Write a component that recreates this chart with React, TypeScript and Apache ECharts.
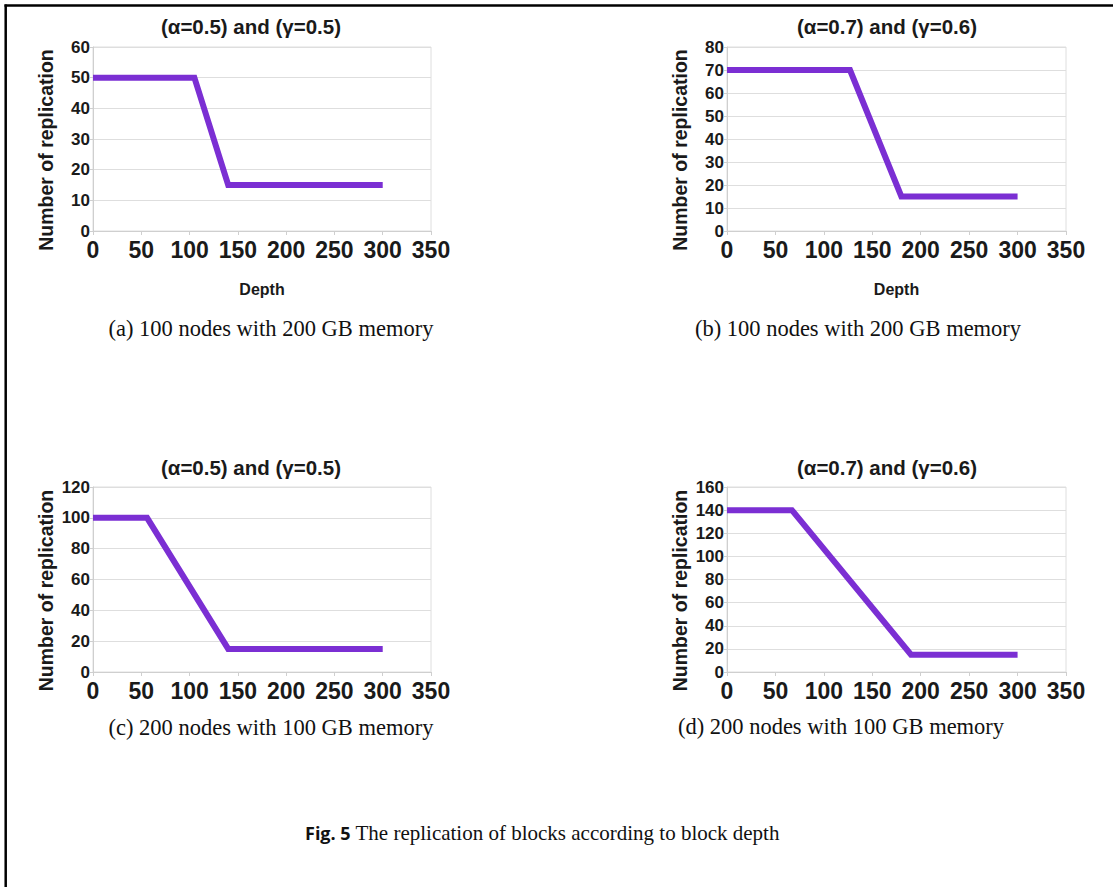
import React, { useEffect, useRef } from "react";
import * as echarts from "echarts";

// ---- data ----
const depthA = [0, 105, 140, 300];
const replA = [50, 50, 15, 15];
const depthB = [0, 127, 180, 300];
const replB = [70, 70, 15, 15];
const depthC = [0, 56, 140, 300];
const replC = [100, 100, 15, 15];
const depthD = [0, 67, 190, 300];
const replD = [140, 140, 15, 15];

const yMax = [60, 80, 120, 160];
const yStep = [10, 10, 20, 20];
const titles = ["(α=0.5) and (γ=0.5)", "(α=0.7) and (γ=0.6)", "(α=0.5) and (γ=0.5)", "(α=0.7) and (γ=0.6)"];
const captions = [
  "(a) 100 nodes with 200 GB memory",
  "(b) 100 nodes with 200 GB memory",
  "(c) 200 nodes with 100 GB memory",
  "(d) 200 nodes with 100 GB memory",
];
const xAxisName = "Depth";
const yAxisName = "Number of replication";
const figLabel = "Fig. 5";
const figText = " The replication of blocks according to block depth";

const SANS = "'Liberation Sans', Arial, sans-serif";
const SERIF = "'Liberation Serif', 'Times New Roman', serif";
const LINE = "#7b2fd3";
const GRID = "#dedede";

export default function App() {
  const ref = useRef<HTMLDivElement>(null);
  useEffect(() => {
    if (!ref.current) return;
    const chart = echarts.init(ref.current, undefined, { renderer: "svg" });
    const grids = [
      { left: 93, top: 47, width: 338, height: 184 },
      { left: 727, top: 47, width: 339, height: 184 },
      { left: 93, top: 487, width: 338, height: 185 },
      { left: 727, top: 487, width: 339, height: 185 },
    ];
    const series = [
      [depthA, replA],
      [depthB, replB],
      [depthC, replC],
      [depthD, replD],
    ];
    const titleCenters = [
      [251, 26],
      [887, 26],
      [251, 467],
      [887, 467],
    ];
    const captionPos = [
      [271, 328],
      [858, 328],
      [271, 727],
      [841, 726],
    ];
    const option: any = {
      animation: false,
      backgroundColor: "#ffffff",
      textStyle: { fontFamily: SANS },
      grid: grids.map((g) => ({
        ...g,
        show: true,
        borderColor: GRID,
        borderWidth: 1,
        containLabel: false,
      })),
      xAxis: grids.map((_, i) => ({
        type: "value",
        gridIndex: i,
        min: 0,
        max: 350,
        interval: 50,
        name: i < 2 ? xAxisName : "",
        nameLocation: "middle",
        nameGap: 50,
        nameTextStyle: { fontFamily: SANS, fontWeight: "bold", fontSize: 16, color: "#1a1a1a" },
        axisLine: { show: true, lineStyle: { color: "#cfcfcf", width: 1 } },
        axisTick: { show: true, inside: false, length: 4, lineStyle: { color: "#cfcfcf" } },
        axisLabel: { fontFamily: SANS, fontWeight: "bold", fontSize: 23, color: "#1a1a1a", margin: 7 },
        splitLine: { show: false },
      })),
      yAxis: grids.map((_, i) => ({
        type: "value",
        gridIndex: i,
        min: 0,
        max: yMax[i],
        interval: yStep[i],
        name: yAxisName,
        nameLocation: "middle",
        nameGap: 37,
        nameTextStyle: {
          fontFamily: SANS,
          fontWeight: "bold",
          fontSize: 19.5,
          color: "#1a1a1a",
          padding: [0, 22, 0, 0],
        },
        axisLine: { show: true, lineStyle: { color: "#cfcfcf", width: 1 } },
        axisTick: { show: true, inside: false, length: 3, lineStyle: { color: "#cfcfcf" } },
        axisLabel: { fontFamily: SANS, fontWeight: "bold", fontSize: 17, color: "#1a1a1a", margin: 3 },
        splitLine: { show: true, lineStyle: { color: GRID, width: 1 } },
      })),
      series: series.map(([xs, ys], i) => ({
        type: "line",
        xAxisIndex: i,
        yAxisIndex: i,
        data: xs.map((x, k) => [x, ys[k]]),
        showSymbol: false,
        symbol: "none",
        clip: false,
        lineStyle: { color: LINE, width: 6, cap: "butt", join: "miter" },
      })),
      graphic: [
        // frame lines
        {
          type: "line",
          shape: { x1: 4.5, y1: 5.5, x2: 1113, y2: 5.5 },
          style: { stroke: "#000", lineWidth: 2.5 },
          silent: true,
        },
        {
          type: "line",
          shape: { x1: 5.7, y1: 4.5, x2: 5.7, y2: 887 },
          style: { stroke: "#000", lineWidth: 2.5 },
          silent: true,
        },
        ...titles.map((t, i) => ({
          type: "text",
          x: titleCenters[i][0],
          y: titleCenters[i][1],
          style: {
            text: t,
            fontFamily: SANS,
            fontWeight: "bold",
            fontSize: 20.5,
            fill: "#1a1a1a",
            textAlign: "center",
            textVerticalAlign: "middle",
          },
        })),
        ...captions.map((t, i) => ({
          type: "text",
          x: captionPos[i][0],
          y: captionPos[i][1],
          style: {
            text: t,
            fontFamily: SERIF,
            fontSize: 22.5,
            fill: "#111",
            textAlign: "center",
            textVerticalAlign: "middle",
          },
        })),
        {
          type: "text",
          x: 305,
          y: 833,
          style: {
            text: "{b|" + figLabel + "}{n|" + figText + "}",
            textVerticalAlign: "middle",
            rich: {
              b: { fontFamily: "'Open Sans', 'Noto Sans', sans-serif", fontWeight: "bold", fontSize: 18, fill: "#111" },
              n: { fontFamily: SERIF, fontSize: 21, fill: "#111" },
            },
          },
        },
      ],
    };
    chart.setOption(option);
    return () => chart.dispose();
  }, []);
  return <div ref={ref} style={{ position: "absolute", left: 0, top: 0, width: 1113, height: 887 }} />;
}
